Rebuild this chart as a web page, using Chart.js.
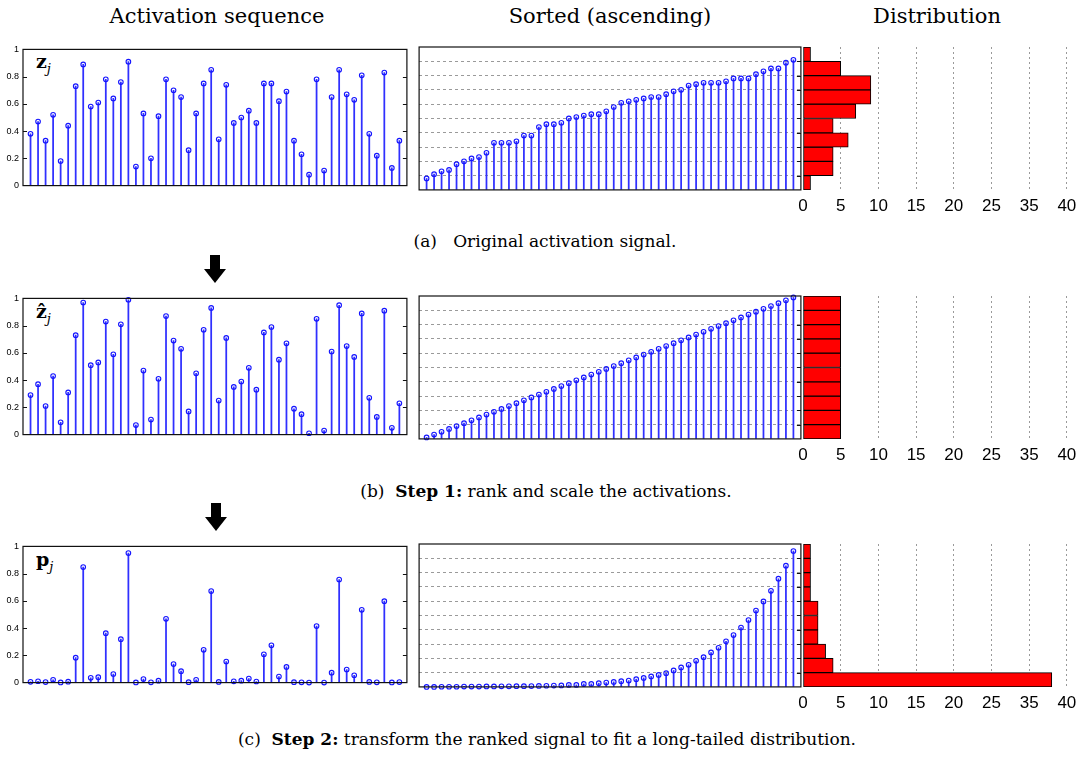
<!DOCTYPE html>
<html>
<head>
<meta charset="utf-8">
<script src="https://cdn.jsdelivr.net/npm/chart.js@4.4.1/dist/chart.umd.min.js"></script>
<style>
    body { margin: 0; background: #fff; width: 1091px; height: 760px; position: relative; overflow: hidden; }
    canvas { position: absolute; }
    .txt { position: absolute; font-family: 'DejaVu Serif', serif; white-space: nowrap; color: #000; transform: translateX(-50%); }
    .title { font-size: 21px; top: 4px; }
    .caption { font-size: 17px; }
    .sym { position: absolute; font-family: 'DejaVu Serif', serif; font-size: 19px; left: 36px; }
    .sym sub { font-size: 13px; font-style: italic; font-weight: normal; }
    .shaft { position: absolute; width: 10px; height: 14px; background: #000; }
    .head { position: absolute; width: 0; height: 0; border-left: 11px solid transparent; border-right: 11px solid transparent; border-top: 14px solid #000; }
</style>
</head>
<body>

<div class="txt title" style="left:217px">Activation sequence</div>
<div class="txt title" style="left:610px">Sorted (ascending)</div>
<div class="txt title" style="left:937px">Distribution</div>

<div class="txt caption" style="left:545px; top:231px">(a)&nbsp;&nbsp; Original activation signal.</div>
<div class="txt caption" style="left:546px; top:481px">(b)&nbsp; <b>Step 1:</b> rank and scale the activations.</div>
<div class="txt caption" style="left:547px; top:729px">(c)&nbsp; <b>Step 2:</b> transform the ranked signal to fit a long-tailed distribution.</div>

<div class="shaft" style="left:210px; top:255px"></div>
<div class="head" style="left:204px; top:269px"></div>
<div class="shaft" style="left:211px; top:503px"></div>
<div class="head" style="left:205px; top:517px"></div>

<div class="sym" style="top:50px"><b>z</b><sub>j</sub></div>
<div class="sym" style="top:300px"><b>ẑ</b><sub>j</sub></div>
<div class="sym" style="top:548px"><b>p</b><sub>j</sub></div>

<script>
// (a) original activations z_j, 50 samples
const zValues = [0.38, 0.47, 0.33, 0.52, 0.18, 0.44, 0.73, 0.89, 0.58, 0.61,
                 0.78, 0.64, 0.76, 0.91, 0.14, 0.53, 0.20, 0.51, 0.78, 0.70,
                 0.65, 0.26, 0.53, 0.75, 0.85, 0.34, 0.74, 0.46, 0.50, 0.55,
                 0.46, 0.75, 0.75, 0.62, 0.69, 0.33, 0.23, 0.08, 0.78, 0.11,
                 0.65, 0.85, 0.67, 0.63, 0.81, 0.38, 0.22, 0.83, 0.13, 0.33];

// (b) ranked and scaled activations
const zHatValues = [0.29, 0.37, 0.21, 0.43, 0.09, 0.31, 0.73, 0.97, 0.51, 0.53,
                    0.83, 0.59, 0.81, 0.99, 0.07, 0.47, 0.11, 0.41, 0.87, 0.69,
                    0.63, 0.17, 0.45, 0.77, 0.93, 0.25, 0.71, 0.35, 0.39, 0.49,
                    0.33, 0.75, 0.79, 0.55, 0.67, 0.19, 0.15, 0.01, 0.85, 0.03,
                    0.61, 0.95, 0.65, 0.57, 0.89, 0.27, 0.13, 0.91, 0.05, 0.23];

// (c) long-tailed transform
const pValues = [0.006, 0.010, 0.004, 0.021, 0.001, 0.007, 0.183, 0.848, 0.035, 0.040,
                 0.363, 0.063, 0.319, 0.951, 0.001, 0.026, 0.002, 0.014, 0.468, 0.136,
                 0.084, 0.003, 0.021, 0.241, 0.672, 0.005, 0.155, 0.009, 0.014, 0.030,
                 0.008, 0.208, 0.274, 0.044, 0.115, 0.003, 0.002, 0.000, 0.415, 0.000,
                 0.073, 0.757, 0.096, 0.054, 0.534, 0.005, 0.002, 0.598, 0.001, 0.004];

// histogram bins (0-0.1 ... 0.9-1) and counts, bottom to top
const binCenters = [0.05, 0.15, 0.25, 0.35, 0.45, 0.55, 0.65, 0.75, 0.85, 0.95];
const histA = [1, 4, 4, 6, 4, 7, 9, 9, 5, 1];
const histB = [5, 5, 5, 5, 5, 5, 5, 5, 5, 5];
const histC = [33, 4, 3, 2, 2, 2, 1, 1, 1, 1];

const yTickVals = [0, 0.2, 0.4, 0.6, 0.8, 1];
const yTickLabels = ['0', '0.2', '0.4', '0.6', '0.8', '1'];
const histTickLabels = ['0', '5', '10', '15', '20', '25', '35', '40'];

Chart.defaults.font.family = "'Liberation Sans', Arial, sans-serif";
Chart.defaults.color = '#000';

// box around the plot area and little inward ticks, like the matlab axes
const framePlugin = {
    id: 'frame',
    afterDraw(chart, args, opts) {
        if (!opts || !opts.on) return;
        const ctx = chart.ctx;
        const a = chart.chartArea;
        const y = chart.scales.y;
        ctx.save();
        ctx.strokeStyle = '#111';
        ctx.lineWidth = 1.2;
        ctx.strokeRect(a.left, a.top, a.right - a.left, a.bottom - a.top);
        ctx.lineWidth = 1;
        (opts.leftTicks || []).forEach(function(v) {
            const py = Math.round(y.getPixelForValue(v)) + 0.5;
            ctx.beginPath(); ctx.moveTo(a.left, py); ctx.lineTo(a.left + 4, py); ctx.stroke();
        });
        (opts.rightTicks || []).forEach(function(v) {
            const py = Math.round(y.getPixelForValue(v)) + 0.5;
            ctx.beginPath(); ctx.moveTo(a.right, py); ctx.lineTo(a.right - 4, py); ctx.stroke();
        });
        ctx.restore();
    }
};
Chart.register(framePlugin);

function addCanvas(left, top, w, h) {
    const c = document.createElement('canvas');
    c.width = w; c.height = h;
    c.style.left = left + 'px';
    c.style.top = top + 'px';
    document.body.appendChild(c);
    return c;
}

function stemChart(canvas, values, isLeft) {
    const pts = values.map(function(v, i) { return { x: i + 1, y: v }; });
    const yScale = isLeft ? {
        min: 0, max: 1,
        afterBuildTicks: function(s) { s.ticks = yTickVals.map(function(v) { return { value: v }; }); },
        ticks: { padding: 4, font: { size: 9 }, callback: function(v, i) { return yTickLabels[i]; } },
        grid: { display: false, drawTicks: false },
        border: { display: false },
        afterFit: function(s) { s.width = 23; }
    } : {
        min: 0, max: 1,
        ticks: { display: false, stepSize: 0.1 },
        grid: {
            drawTicks: false,
            color: function(c) {
                const v = c.tick ? c.tick.value : 0;
                return (v < 0.05 || v > 0.95) ? 'rgba(0,0,0,0)' : '#9a9a9a';
            }
        },
        border: { display: false, dash: [3, 3] },
        afterFit: function(s) { s.width = 0; }
    };
    return new Chart(canvas, {
        type: 'bar',
        data: {
            datasets: [
                {
                    type: 'line',
                    data: pts,
                    showLine: false,
                    clip: false,
                    pointRadius: 2.3,
                    pointBorderWidth: 1.1,
                    pointBorderColor: '#1414ff',
                    pointBackgroundColor: 'rgba(255,255,255,0)',
                    order: 0
                },
                {
                    type: 'bar',
                    data: pts,
                    backgroundColor: '#3030ff',
                    barThickness: 1.1,
                    order: 1
                }
            ]
        },
        options: {
            responsive: false,
            animation: false,
            events: [],
            layout: { padding: isLeft ? { top: 7, bottom: 5, left: 0, right: 2 } : { top: 7, bottom: 5, left: 2, right: 3 } },
            plugins: {
                legend: { display: false },
                tooltip: { enabled: false },
                frame: isLeft ? { on: true, leftTicks: [0.2, 0.4, 0.6, 0.8], rightTicks: [0.2, 0.4, 0.6, 0.8] }
                              : { on: true, rightTicks: [0.1, 0.2, 0.3, 0.4, 0.5, 0.6, 0.7, 0.8, 0.9] }
            },
            scales: {
                x: { type: 'linear', min: 0, max: 51, offset: false, grid: { offset: false }, display: false },
                y: yScale
            }
        }
    });
}

function histChart(canvas, counts) {
    return new Chart(canvas, {
        type: 'bar',
        data: {
            datasets: [{
                data: counts.map(function(c, i) { return { x: c, y: binCenters[i] }; }),
                backgroundColor: '#ff0000',
                borderColor: '#000',
                borderWidth: 1,
                borderSkipped: false,
                barPercentage: 1,
                categoryPercentage: 1
            }]
        },
        options: {
            indexAxis: 'y',
            responsive: false,
            animation: false,
            events: [],
            layout: { padding: { left: 13, top: 7, right: 0, bottom: 0 } },
            plugins: { legend: { display: false }, tooltip: { enabled: false } },
            scales: {
                y: { type: 'linear', min: 0, max: 1, offset: false, grid: { offset: false }, display: false },
                x: {
                    type: 'linear', min: 0, max: 38.2,
                    ticks: {
                        stepSize: 5, includeBounds: false, autoSkip: false, maxRotation: 0,
                        padding: 6, font: { size: 17 },
                        callback: function(v, i) { return histTickLabels[i]; }
                    },
                    grid: {
                        drawTicks: false,
                        color: function(c) { return (c.tick && c.tick.value === 0) ? 'rgba(0,0,0,0)' : '#9a9a9a'; }
                    },
                    border: { display: false, dash: [2, 3] },
                    afterFit: function(s) { s.height = 26; }
                }
            }
        }
    });
}

const rows = [
    { top: 47, values: zValues, hist: histA },
    { top: 296, values: zHatValues, hist: histB },
    { top: 544, values: pValues, hist: histC }
];

rows.forEach(function(r) {
    const sorted = r.values.slice().sort(function(a, b) { return a - b; });
    stemChart(addCanvas(0, r.top - 7, 412, 155), r.values, true);
    stemChart(addCanvas(414, r.top - 7, 392, 155), sorted, false);
    histChart(addCanvas(790, r.top - 7, 301, 176), r.hist);
});
</script>
</body>
</html>
